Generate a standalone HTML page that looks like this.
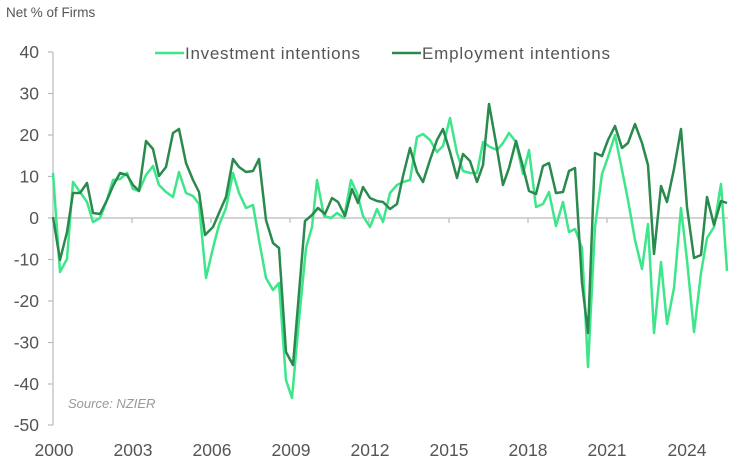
<!DOCTYPE html>
<html><head><style>
html,body{margin:0;padding:0;background:#fff;}
svg{display:block;font-family:"Liberation Sans",sans-serif;}
</style></head><body>
<svg width="738" height="468" viewBox="0 0 738 468">
<text x="6" y="17" font-size="13.5" fill="#555">Net % of Firms</text>
<g stroke="#bbb" stroke-width="1.2" fill="none">
<line x1="53" y1="52" x2="53" y2="425"/>
<line x1="53" y1="218" x2="728" y2="218"/>
<line x1="48" y1="52" x2="53" y2="52"/><line x1="48" y1="93.5" x2="53" y2="93.5"/><line x1="48" y1="135" x2="53" y2="135"/><line x1="48" y1="176.5" x2="53" y2="176.5"/><line x1="48" y1="218" x2="53" y2="218"/><line x1="48" y1="259.5" x2="53" y2="259.5"/><line x1="48" y1="301" x2="53" y2="301"/><line x1="48" y1="342.5" x2="53" y2="342.5"/><line x1="48" y1="384" x2="53" y2="384"/><line x1="48" y1="425" x2="53" y2="425"/>
<line x1="132" y1="218" x2="132" y2="223"/><line x1="211" y1="218" x2="211" y2="223"/><line x1="290" y1="218" x2="290" y2="223"/><line x1="369" y1="218" x2="369" y2="223"/><line x1="449" y1="218" x2="449" y2="223"/><line x1="528" y1="218" x2="528" y2="223"/><line x1="607" y1="218" x2="607" y2="223"/>
</g>
<g font-size="17.5" fill="#555" text-anchor="end">
<text x="39" y="58">40</text><text x="39" y="99.5">30</text><text x="39" y="141">20</text><text x="39" y="182.5">10</text><text x="39" y="224">0</text><text x="39" y="265.5">-10</text><text x="39" y="307">-20</text><text x="39" y="348.5">-30</text><text x="39" y="390">-40</text><text x="39" y="431">-50</text>
</g>
<g font-size="17.5" fill="#555" text-anchor="middle">
<text x="54" y="456">2000</text><text x="133" y="456">2003</text><text x="212" y="456">2006</text><text x="291" y="456">2009</text><text x="370" y="456">2012</text><text x="449" y="456">2015</text><text x="528" y="456">2018</text><text x="607" y="456">2021</text><text x="687" y="456">2024</text>
</g>
<text x="68" y="408" font-size="13" font-style="italic" fill="#999">Source: NZIER</text>
<line x1="155" y1="53" x2="184" y2="53" stroke="#3ee68a" stroke-width="2.5"/>
<text x="185" y="59" font-size="17" fill="#555" textLength="175" lengthAdjust="spacing">Investment intentions</text>
<line x1="392" y1="53" x2="421" y2="53" stroke="#2a8a4e" stroke-width="2.5"/>
<text x="422" y="59" font-size="17" fill="#555" textLength="188" lengthAdjust="spacing">Employment intentions</text>
<polyline fill="none" stroke="#3ee68a" stroke-width="2.5" stroke-linejoin="round" points="53,173 60,272 67,259 73,182 80,192 87,202 93,222 100,218 107,200 113,180 120,179 127,173 133,189 139,191 146,175 153,166 159,185 166,192 173,197 179,172 186,193 193,196 199,204 206,278 213,248 219,225 226,208 233,173 239,193 246,208 253,205 259,240 266,278 273,290 279,283 286,380 292,398 299,320 306,248 312,227 317,180 324,216 331,218 337,213 344,218 351,180 357,193 363,216 370,227 377,209 383,222 390,193 397,185 403,182 410,180 417,137 423,134 430,140 437,152 443,146 450,118 457,153 463,171 470,173 477,173 483,142 490,147 497,150 503,143 509,133 516,142 523,174 529,150 536,207 543,204 549,192 556,226 563,202 569,232 575,229 582,248 588,367 595,227 602,174 608,157 615,135 622,170 628,200 635,240 642,269 648,224 654,333 661,262 667,324 674,288 681,208 687,260 694,332 701,273 707,238 714,227 721,184 727,271"/>
<polyline fill="none" stroke="#2a8a4e" stroke-width="2.5" stroke-linejoin="round" points="53,217 60,260 67,232 73,193 80,193 87,183 93,213 100,214 107,200 113,186 120,173 127,175 133,185 139,191 146,141 153,149 159,176 166,167 173,133 179,129 186,163 193,180 199,192 205,235 213,227 219,213 226,197 233,159 239,167 246,172 253,171 259,159 266,220 273,243 279,248 286,352 293,365 299,293 305,221 312,215 318,208 325,214 332,198 338,202 345,216 352,189 358,203 363,187 370,198 377,201 383,202 390,209 397,204 403,176 410,148 417,172 423,182 430,160 437,140 443,129 450,152 457,178 463,154 470,161 477,182 483,165 489,104 496,143 503,185 509,168 516,141 523,167 529,191 536,194 543,166 549,163 556,193 563,192 569,171 575,168 582,283 588,333 595,153 602,156 608,140 615,126 622,148 628,143 635,124 642,143 648,165 654,254 661,186 667,202 674,169 681,129 687,207 694,258 701,255 707,197 714,225 721,201 727,203"/>
</svg>
</body></html>
